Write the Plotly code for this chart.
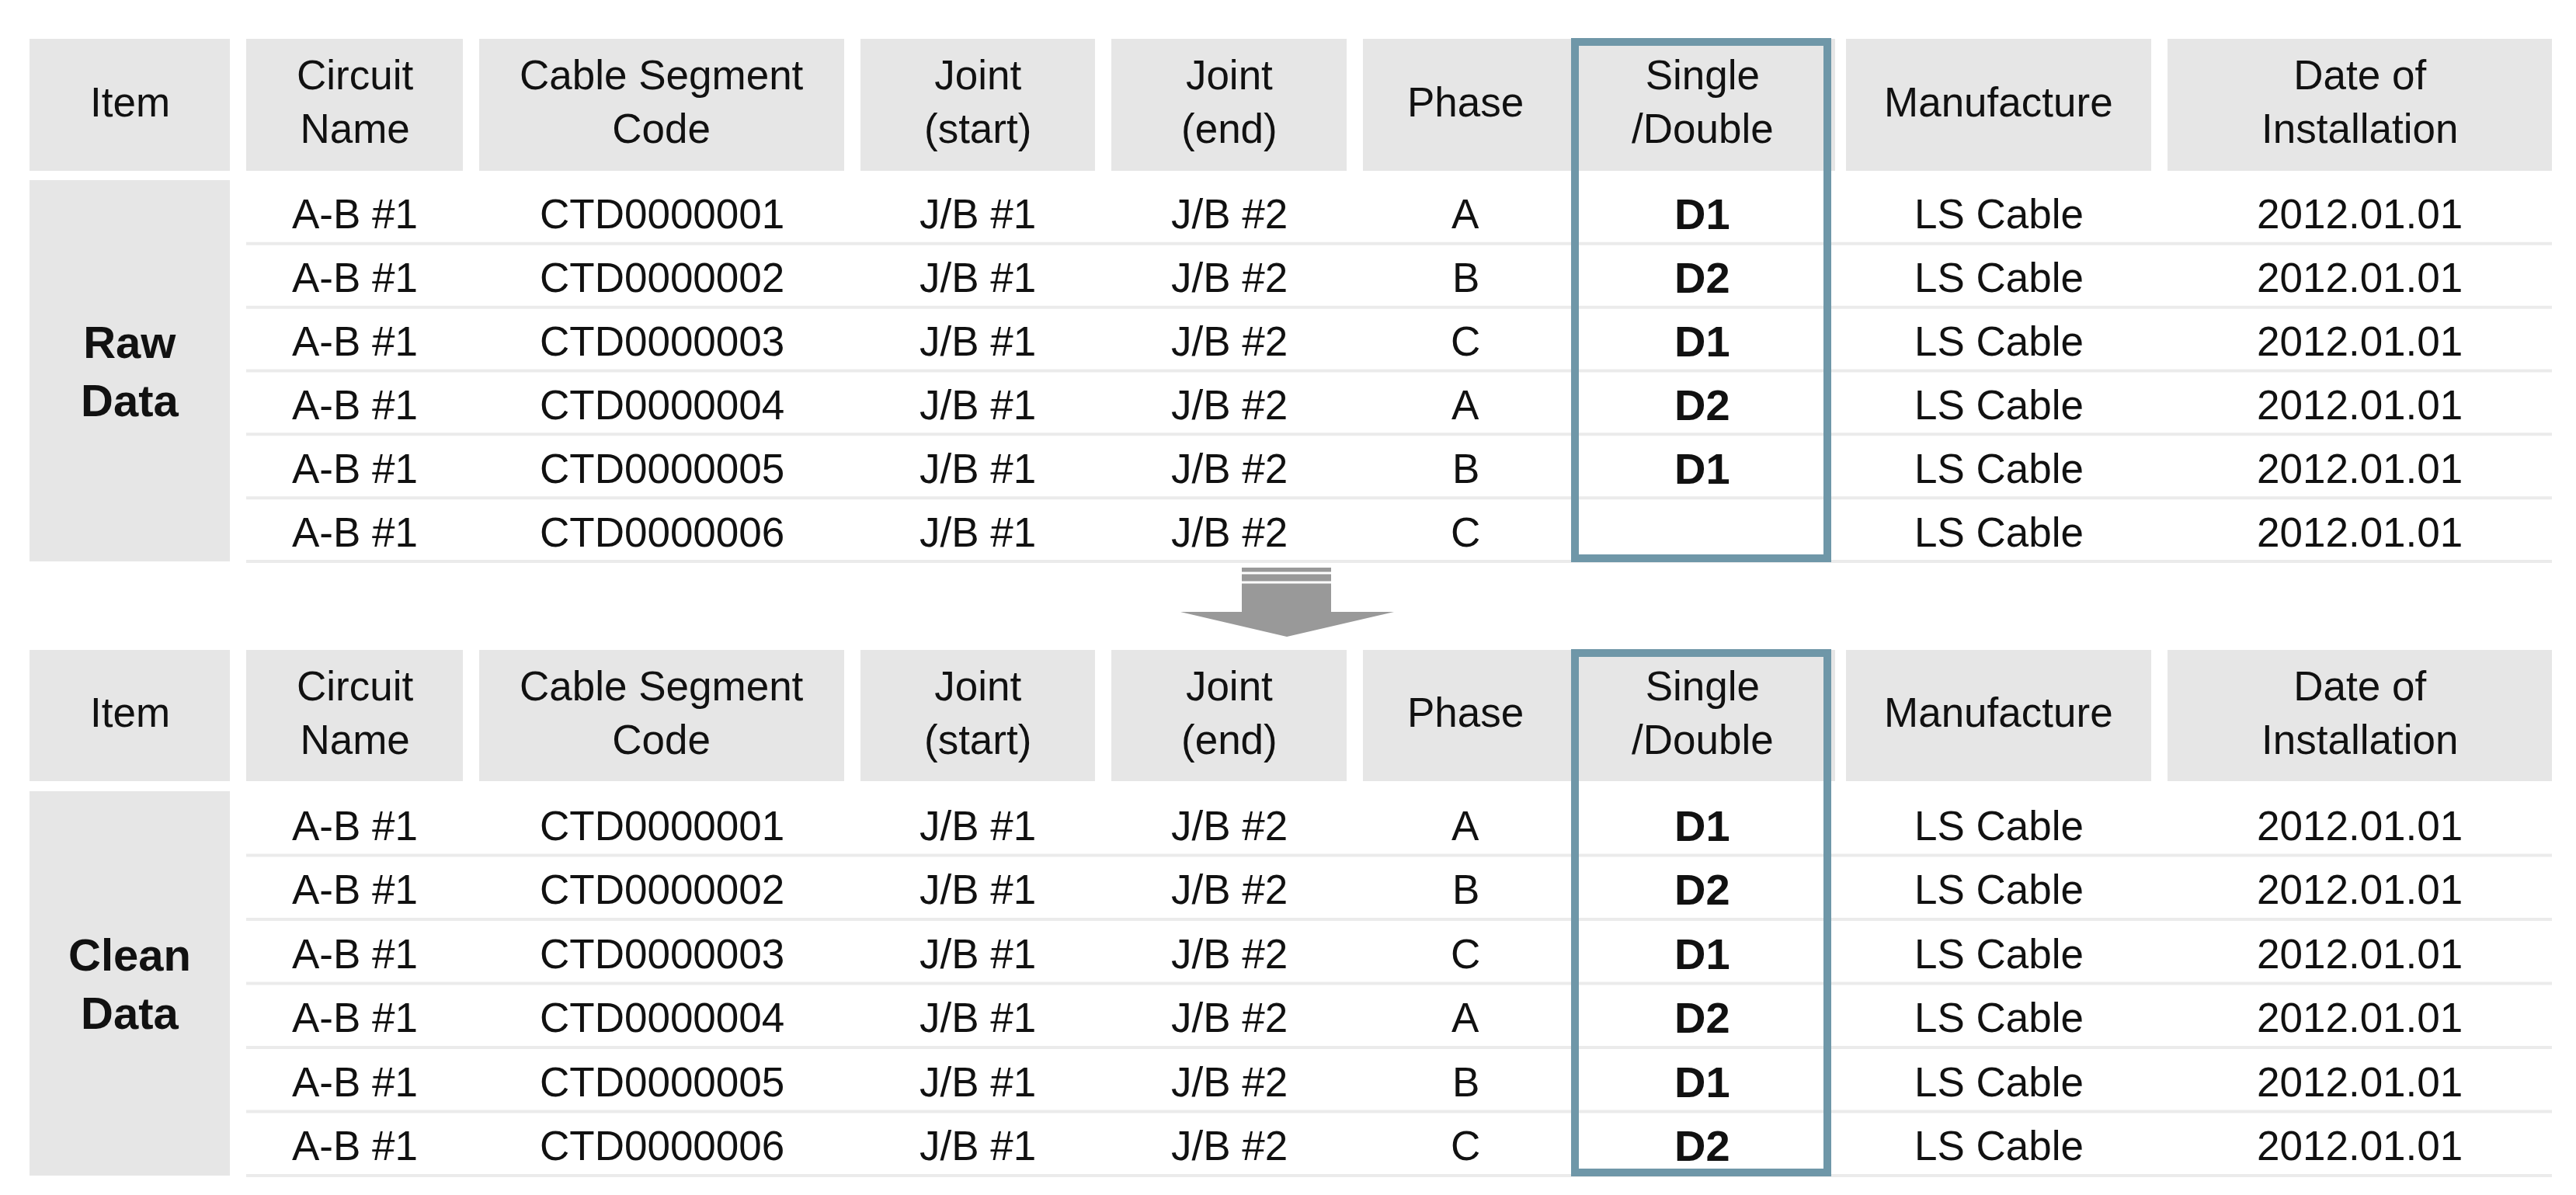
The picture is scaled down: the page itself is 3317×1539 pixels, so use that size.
import plotly.graph_objects as go

headers = ["Item", "Circuit<br>Name", "Cable Segment<br>Code", "Joint<br>(start)", "Joint<br>(end)",
           "Phase", "Single<br>/Double", "Manufacture", "Date of<br>Installation"]
circuit = ["A-B #1"] * 6
codes = ["CTD0000001", "CTD0000002", "CTD0000003", "CTD0000004", "CTD0000005", "CTD0000006"]
joint_start = ["J/B #1"] * 6
joint_end = ["J/B #2"] * 6
phase = ["A", "B", "C", "A", "B", "C"]
sd_raw = ["D1", "D2", "D1", "D2", "D1", ""]
sd_clean = ["D1", "D2", "D1", "D2", "D1", "D2"]
manufacture = ["LS Cable"] * 6
install_date = ["2012.01.01"] * 6
blocks = [("Raw<br>Data", sd_raw), ("Clean<br>Data", sd_clean)]

W, H = 3317, 1539
FONT = "Liberation Sans Narrow, Arial Narrow, Liberation Sans, sans-serif"
col_edges = [(30, 288), (309, 588), (609, 1079), (1100, 1402), (1423, 1726),
             (1747, 2011), (2020, 2348), (2369, 2762), (2783, 3278)]
block_geo = [dict(h0=42, h1=212, d0=224, d1=715), dict(h0=829, h1=998, d0=1011, d1=1506)]
GRAY = "#e6e6e6"
BLUE = "#6f97a8"

fig = go.Figure()
shapes, ann = [], []

def text(x, y, s, size=50, bold=False):
    ann.append(dict(x=x, y=y, xref="x", yref="y", text=f"<b>{s}</b>" if bold else s,
                    showarrow=False, font=dict(family=FONT, size=size, color="#111"),
                    xanchor="center", yanchor="middle"))

for (label, sd), g in zip(blocks, block_geo):
    for i, (x0, x1) in enumerate(col_edges):
        xx0, xx1 = (2011, 2355) if i == 6 else (x0, x1)
        shapes.append(dict(type="rect", xref="x", yref="y", x0=xx0, x1=xx1, y0=g["h0"], y1=g["h1"],
                           fillcolor=GRAY, line=dict(width=0), layer="below"))
        text((x0 + x1) / 2, (g["h0"] + g["h1"]) / 2 - 4, headers[i], size=53)
    x0, x1 = col_edges[0]
    shapes.append(dict(type="rect", xref="x", yref="y", x0=x0, x1=x1, y0=g["d0"], y1=g["d1"],
                       fillcolor=GRAY, line=dict(width=0), layer="below"))
    text((x0 + x1) / 2, (g["d0"] + g["d1"]) / 2, label, size=58, bold=True)
    rh = (g["d1"] - g["d0"]) / 6
    cols = [circuit, codes, joint_start, joint_end, phase, sd, manufacture, install_date]
    for r in range(6):
        yc = g["d0"] + rh * (r + 0.5)
        for c, vals in enumerate(cols):
            cx0, cx1 = col_edges[c + 1]
            if vals[r]:
                text((cx0 + cx1) / 2, yc + 3, vals[r], size=53 if c != 5 else 56, bold=(c == 5))
        yl = g["d0"] + rh * (r + 1)
        shapes.append(dict(type="line", xref="x", yref="y", x0=309, x1=3278, y0=yl, y1=yl,
                           line=dict(color="#ebebeb", width=4), layer="below"))
    shapes.append(dict(type="rect", xref="x", yref="y", x0=2020, x1=2345, y0=g["h0"] + 4, y1=g["d1"] - 4,
                       fillcolor="rgba(0,0,0,0)", line=dict(color=BLUE, width=10)))

AG = "#999999"
shapes.append(dict(type="rect", xref="x", yref="y", x0=1591, x1=1706, y0=723, y1=782,
                   fillcolor=AG, line=dict(width=0)))
for ys in (730, 742):
    shapes.append(dict(type="line", xref="x", yref="y", x0=1591, x1=1706, y0=ys, y1=ys,
                       line=dict(color="white", width=3)))
shapes.append(dict(type="path", xref="x", yref="y", path="M 1512 780 L 1787 780 L 1649 812 Z",
                   fillcolor=AG, line=dict(width=0)))

fig.update_layout(width=W, height=H, margin=dict(l=0, r=0, t=0, b=0),
                  paper_bgcolor="white", plot_bgcolor="white", shapes=shapes, annotations=ann,
                  xaxis=dict(range=[0, W], visible=False, fixedrange=True),
                  yaxis=dict(range=[H, 0], visible=False, fixedrange=True), showlegend=False)
fig.write_html("out.html")
